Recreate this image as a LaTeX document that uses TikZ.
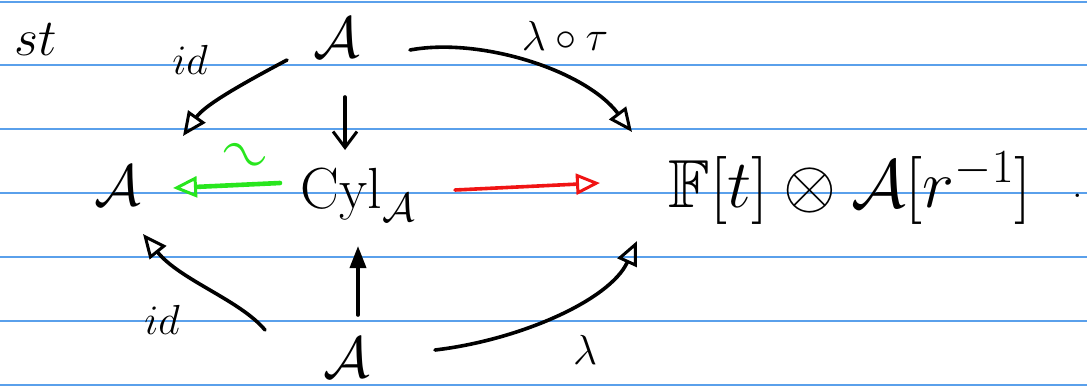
\RequirePackage{fix-cm}
\documentclass[tikz,border=0pt]{standalone}
\usepackage{amsmath,amssymb}
\usetikzlibrary{arrows.meta}
\definecolor{rulecol}{RGB}{90,160,235}
\definecolor{hgreen}{RGB}{40,230,30}
\definecolor{hred}{RGB}{240,20,20}
\tikzset{
  big/.style={font=\fontsize{58}{62}\selectfont, inner sep=0pt},
  lab/.style={font=\fontsize{42}{46}\selectfont, inner sep=0pt},
  arr/.style={line width=3.6pt, line cap=round, -{Triangle[open,length=24pt,width=21pt,line width=3pt]}},
}
\begin{document}
\begin{tikzpicture}[x=1pt,y=-1pt]
\useasboundingbox (0,0) rectangle (1087,389);
\foreach \y in {2,65,129,193,257,321,385} \draw[rulecol, line width=1.2pt] (0,\y) -- (1087,\y);

\node[lab, font=\fontsize{52}{56}\selectfont] (st) at (36,40) {$st$};
\node[big] (Atop) at (337,38) {$\mathcal{A}$};
\node[big] (Aleft) at (118,186) {$\mathcal{A}$};
\node[big] (cyl) at (358,195) {$\mathrm{Cyl}_{\scriptstyle\mathcal{A}}$};
\node[big, font=\fontsize{68}{72}\selectfont] (R) at (850,188) {$\mathbb{F}[t]\otimes\mathcal{A}[r^{-1}]$};
\node[big] (Abot) at (347,358) {$\mathcal{A}$};
\node[lab] (dot) at (1078,196) {.};

\node[lab] (idtop) at (190,60) {$id$};
\node[lab] (lt) at (565,36) {$\lambda\circ\tau$};
\node[lab, text=hgreen, font=\fontsize{60}{64}\selectfont, rotate=-25] (iso) at (243,158) {$\sim$};
\node[lab] (idbot) at (162,320) {$id$};
\node[lab] (lam) at (585,350) {$\lambda$};

% id (top)
\draw[arr] ([shift={(-50,22)}]Atop.center) .. controls (240,85) and (205,105) .. ([shift={(65,-50)}]Aleft.center);
% down arrow
\draw[line width=3.6pt, line cap=round, -{Straight Barb[length=16pt,width=24pt,line width=3pt]}] ([shift={(8,59)}]Atop.center) -- ([shift={(8,112)}]Atop.center);
% lambda o tau
\draw[arr] ([shift={(73,12)}]Atop.center) .. controls (480,37) and (585,70) .. ([shift={(-218,-56)}]R.center);
% green iso
\draw[hgreen, arr, line width=4.6pt] ([shift={(-78,-12)}]cyl.center) -- ([shift={(55,2)}]Aleft.center);
% red
\draw[hred, arr] ([shift={(97,-5)}]cyl.center) -- ([shift={(-250,-5)}]R.center);
% up arrow
\draw[line width=3.6pt, line cap=round, -{Triangle[length=22pt,width=16pt]}] ([shift={(11,-43)}]Abot.center) -- ([shift={(11,-112)}]Abot.center);
% id (bottom)
\draw[arr] ([shift={(-82,-28)}]Abot.center) .. controls (240,300) and (180,280) .. ([shift={(25,48)}]Aleft.center);
% lambda
\draw[arr] ([shift={(88,-8)}]Abot.center) .. controls (520,340) and (610,300) .. ([shift={(-213,53)}]R.center);
\end{tikzpicture}
\end{document}
